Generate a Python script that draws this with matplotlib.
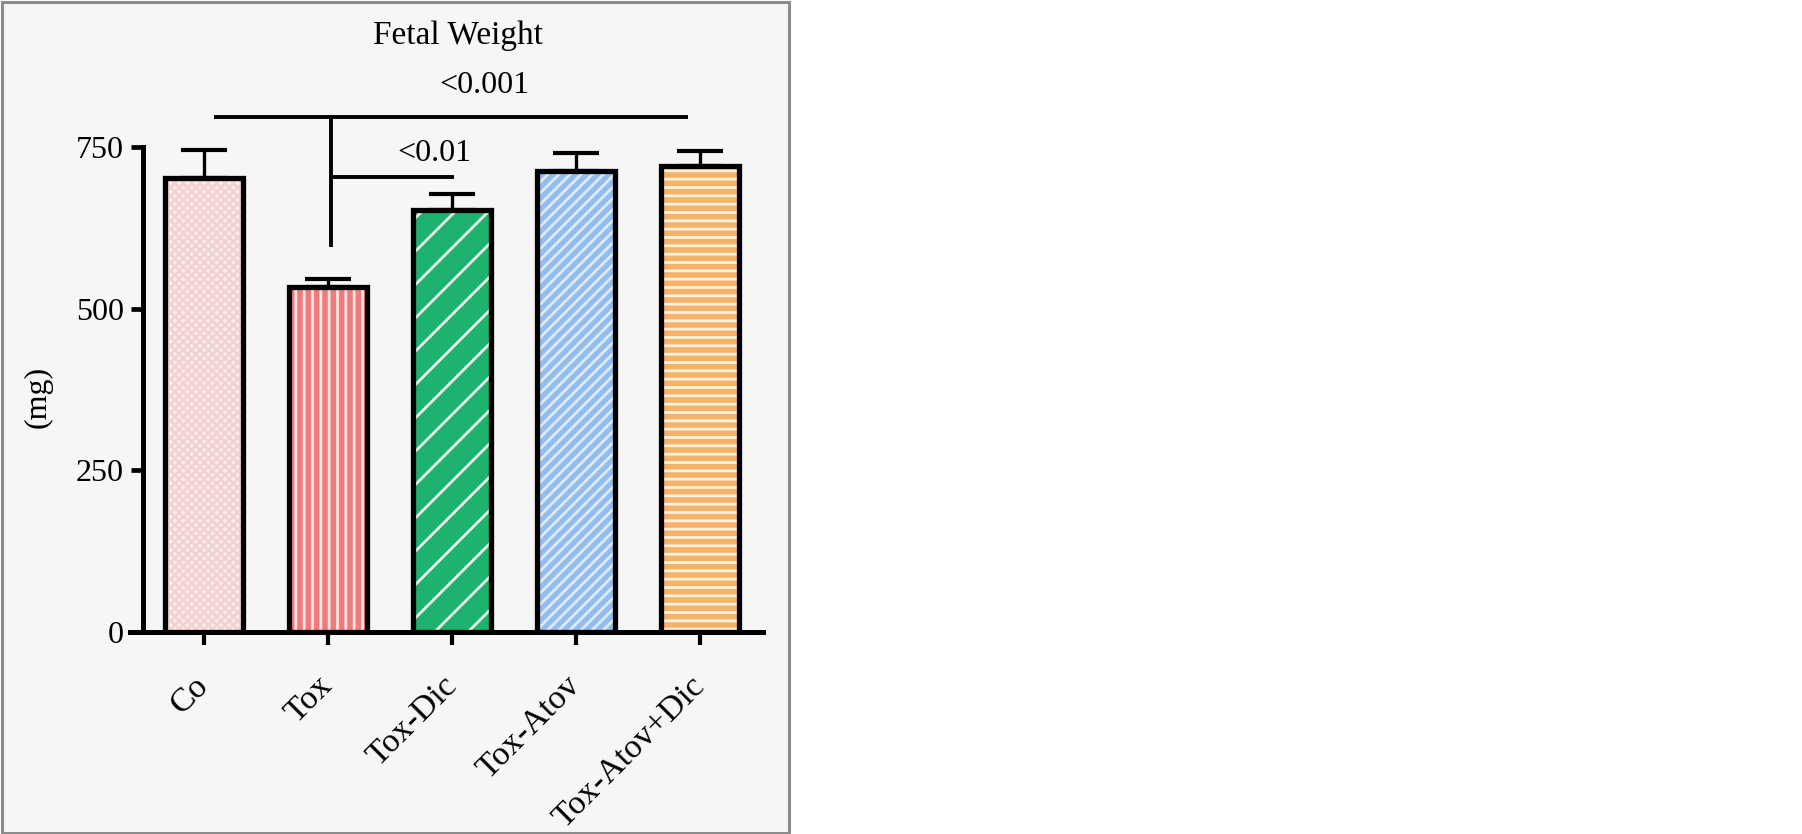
import numpy as np
import matplotlib
matplotlib.use("Agg")
import matplotlib.pyplot as plt
from matplotlib.patches import Rectangle
from matplotlib.transforms import ScaledTranslation

# data
groups = ["Co", "Tox", "Tox-Dic", "Tox-Atov", "Tox-Atov+Dic"]
weight_mg = [702, 533, 653, 712, 721]
sem_mg = [43, 13, 24, 29, 23]
y_ticks = [0, 250, 500, 750]

face_colors = ["#fcf1f1", "#ef7c7c", "#1db26d", "#92bdec", "#f4b168"]
hatch_colors = ["#f5d2d2", "#fbe4e4", "#e8f6ee", "#dceaf9", "#fdf0dc"]
hatches = ["xxxx", "||", "/", "///", "--"]

plt.rcParams["font.family"] = ["Liberation Serif", "DejaVu Serif"]
plt.rcParams["hatch.linewidth"] = 2.0

fig = plt.figure(figsize=(18.02, 8.34), dpi=100, facecolor="white")

# grey panel behind the chart
fig.patches.append(Rectangle((1.5 / 1802, 1.5 / 834), 787 / 1802, 831 / 834,
                             transform=fig.transFigure, facecolor="#f6f6f6",
                             edgecolor="#8c8c8c", linewidth=2.2, zorder=-10))

ax = fig.add_axes([130 / 1802, 202 / 834, 633 / 1802, 621 / 834])
ax.set_facecolor("none")

x = np.arange(len(groups))
width = 0.63

# coloured fill with light hatch, then black outline on top
for i in range(len(groups)):
    ax.bar(x[i], weight_mg[i], width, color=face_colors[i], edgecolor=hatch_colors[i],
           hatch=hatches[i], linewidth=0, zorder=2)
ax.bar(x, weight_mg, width, facecolor="none", edgecolor="black", linewidth=3.8, zorder=3)

ax.errorbar(x, weight_mg, yerr=[np.zeros(len(x)), sem_mg], fmt="none", ecolor="black",
            elinewidth=2.4, capsize=16.5, capthick=3.0, zorder=1)

# significance brackets
ax.plot([0.08, 3.9], [796, 796], color="black", lw=2.8, solid_capstyle="butt")
ax.plot([1.02, 1.02], [796, 595], color="black", lw=2.8, solid_capstyle="butt")
ax.plot([1.02, 2.02], [703, 703], color="black", lw=2.8, solid_capstyle="butt")
ax.text(2.26, 833, "<0.001", ha="center", va="baseline", fontsize=23)
ax.text(1.86, 728, "<0.01", ha="center", va="baseline", fontsize=23)
ax.text(2.05, 909, "Fetal Weight", ha="center", va="baseline", fontsize=24)

ax.set_xlim(-0.597, 4.508)
ax.set_ylim(0, 960)
ax.set_yticks(y_ticks)
ax.set_xticks(x)
ax.set_xticklabels(groups, rotation=45, ha="right", rotation_mode="anchor", va="center")
shift = ScaledTranslation(6 / 100, 0, fig.dpi_scale_trans)
for lab in ax.get_xticklabels():
    lab.set_transform(lab.get_transform() + shift)

for s in ["top", "right"]:
    ax.spines[s].set_visible(False)
ax.spines["left"].set_position(("data", -0.49))
ax.spines["left"].set_bounds(0, 750)
ax.spines["left"].set_linewidth(3.6)
ax.spines["bottom"].set_linewidth(3.6)
ax.spines["left"].set_capstyle("projecting")

ax.tick_params(axis="y", length=9, width=3.4, pad=5, labelsize=23)
ax.tick_params(axis="x", length=9.5, width=3.0, pad=26, labelsize=24.5)

fig.text(38 / 1802, 1 - 397 / 834, "(mg)", rotation=90, ha="center", va="center", fontsize=23)

fig.savefig("out.png", dpi=100, facecolor="white")
